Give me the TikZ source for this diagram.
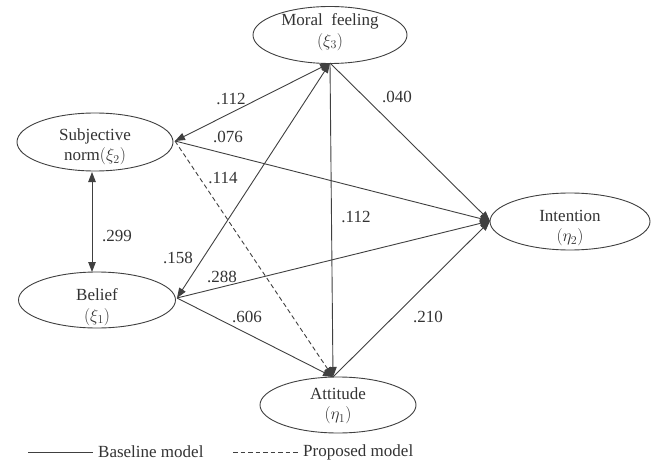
\documentclass[tikz,border=0pt]{standalone}
\usepackage{fontspec}
\setmainfont{Liberation Serif}
\usetikzlibrary{shapes.geometric,arrows.meta}
\definecolor{ln}{HTML}{404040}
\definecolor{tx}{HTML}{333333}
\tikzset{
  ell/.style={draw=ln, line width=0.9pt, ellipse, inner sep=0pt},
  lbl/.style={text=tx, align=center, inner sep=0pt, font=\fontsize{17}{20.5}\selectfont},
  coef/.style={text=tx, inner sep=0pt, font=\fontsize{17}{20}\selectfont},
  path/.style={draw=ln, line width=0.9pt, -{Triangle[length=10pt,width=7.5pt]}},
  corr/.style={draw=ln, line width=0.9pt, {Triangle[length=10pt,width=7.5pt]}-{Triangle[length=10pt,width=7.5pt]}},
  prop/.style={path, dash pattern=on 4.5pt off 3pt},
}
\begin{document}
\begin{tikzpicture}[x=1pt,y=-1pt]
\useasboundingbox[fill=white] (0,0) rectangle (660,465);
% latent variables
\node[ell, minimum width=154pt, minimum height=57pt] (mf) at (330,35) {};
\node[lbl] (mft) at (330,32) {Moral\ \ feeling\\$(\xi_3)$};
\node[ell, minimum width=156pt, minimum height=58pt] (sn) at (95,142) {};
\node[lbl] (snt) at (95,147) {Subjective\\norm$(\xi_2)$};
\node[ell, minimum width=157pt, minimum height=56pt] (bel) at (97,300) {};
\node[lbl] (belt) at (97,307) {Belief\\$(\xi_1)$};
\node[ell, minimum width=156pt, minimum height=56pt] (att) at (338,405) {};
\node[lbl] (attt) at (338,406) {Attitude\\$(\eta_1)$};
\node[ell, minimum width=160pt, minimum height=57pt] (int) at (570,221.5) {};
\node[lbl] (intt) at (570,228) {Intention\\$(\eta_2)$};
% anchor points
\coordinate (mfs) at (330,63);
\coordinate (sne) at (175,141);
\coordinate (bele) at (177,298);
\coordinate (attn) at (333,377);
\coordinate (intw) at (490,221);
\coordinate (sns) at (92,172);
\coordinate (beln) at (92,272);
% correlations
\draw[corr] (sne) -- (mfs);
\draw[corr] (bele) -- (mfs);
\draw[corr] (sns) -- (beln);
% paths
\draw[path] (mfs) -- (attn);
\draw[path] (mfs) -- (intw);
\draw[path] (sne) -- (intw);
\draw[prop] (sne) -- (attn);
\draw[path] (bele) -- (intw);
\draw[path] (bele) -- (attn);
\draw[path] (attn) -- (intw);
% coefficients
\node[coef] (c1) at (231,99) {.112};
\node[coef] (c2) at (228,137) {.076};
\node[coef] (c3) at (223,178) {.114};
\node[coef] (c4) at (397,97) {.040};
\node[coef] (c5) at (356,217) {.112};
\node[coef] (c6) at (117,236) {.299};
\node[coef] (c7) at (178,258) {.158};
\node[coef] (c8) at (222,277) {.288};
\node[coef] (c9) at (247,317) {.606};
\node[coef] (c10) at (428,317) {.210};
% legend
\coordinate (la) at (28,452);
\coordinate (lb) at (93,452);
\coordinate (lc) at (233,452);
\coordinate (ld) at (298,452);
\draw[draw=ln, line width=0.9pt] (la) -- (lb);
\draw[draw=ln, line width=0.9pt, dash pattern=on 4.5pt off 3pt] (lc) -- (ld);
\node[coef, anchor=west] (lt1) at (98,452) {Baseline model};
\node[coef, anchor=west] (lt2) at (303,452) {Proposed model};
\end{tikzpicture}
\end{document}
